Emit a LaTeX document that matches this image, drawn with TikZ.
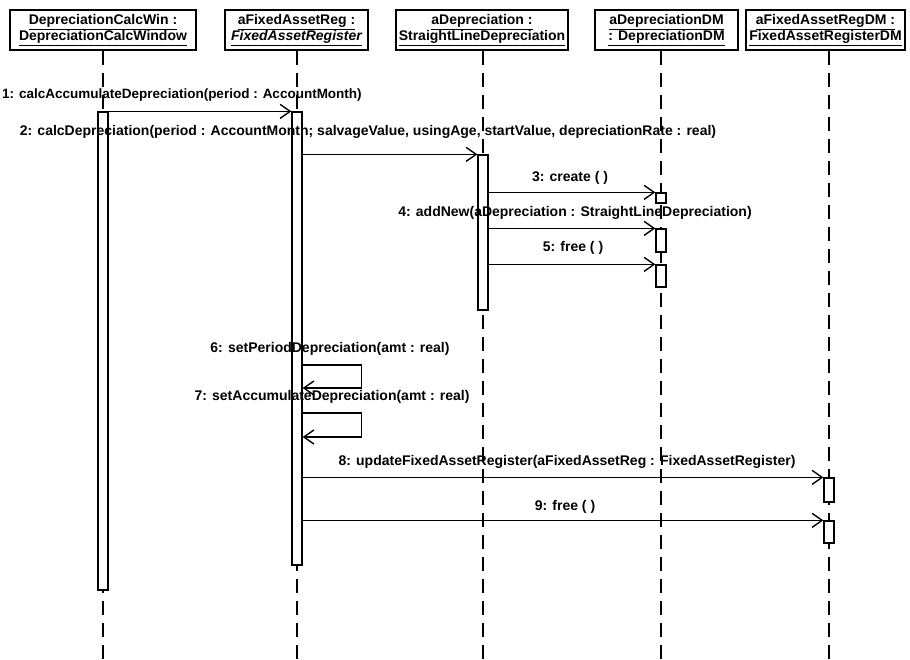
\documentclass[tikz,border=0pt]{standalone}
\usepackage{fontspec}
\setmainfont{Liberation Sans}
\usetikzlibrary{arrows.meta}
\begin{document}
\begin{tikzpicture}[x=1pt,y=-1pt,
 obj/.style={draw, line width=1.6pt, fill=white, align=center, inner sep=0pt, minimum height=40pt, font=\fontsize{14}{16}\selectfont\bfseries},
 life/.style={line width=1.6pt, dash pattern=on 14pt off 8pt},
 act/.style={draw, fill=white, line width=1.3pt, minimum width=10pt, inner sep=0pt},
 msg/.style={line width=1.4pt, -{Straight Barb[length=10pt,width=14pt,line width=1.4pt]}},
 lbl/.style={font=\fontsize{14}{16}\selectfont\bfseries, inner sep=0pt}
]
\useasboundingbox (0,0) rectangle (910,659);
% objects
\node[obj, minimum width=186pt] (o1) at (103,30) {\underline{DepreciationCalcWin :}\\\underline{DepreciationCalcWindow}};
\node[obj, minimum width=143pt] (o2) at (296.5,30) {\underline{aFixedAssetReg :}\\\underline{\itshape FixedAssetRegister}};
\node[obj, minimum width=172pt] (o3) at (482,30) {\underline{aDepreciation :}\\\underline{StraightLineDepreciation}};
\node[obj, minimum width=143pt] (o4) at (666.5,30) {\underline{aDepreciationDM}\\\underline{: DepreciationDM}};
\node[obj, minimum width=159pt] (o5) at (825.5,30) {\underline{aFixedAssetRegDM :}\\\underline{FixedAssetRegisterDM}};
% lifelines
\coordinate (e1) at (103,659);
\coordinate (e2) at (297,659);
\coordinate (e3) at (483,659);
\coordinate (e4) at (661,659);
\coordinate (e5) at (829,659);
\draw[life] (o1.south -| e1) -- (e1);
\draw[life] (o2.south -| e2) -- (e2);
\draw[life] (o3.south -| e3) -- (e3);
\draw[life] (o4.south -| e4) -- (e4);
\draw[life] (o5.south -| e5) -- (e5);
% activations
\node[act, minimum height=478pt] (b1) at (103,351) {};
\node[act, minimum height=453pt] (b2) at (297,338.5) {};
\node[act, minimum height=155pt] (b3) at (483,232.5) {};
\node[act, minimum height=10pt] (c1) at (661,198) {};
\node[act, minimum height=23pt] (c2) at (661,240.5) {};
\node[act, minimum height=22pt] (c3) at (661,276) {};
\node[act, minimum height=24pt] (d1) at (829,490) {};
\node[act, minimum height=22pt] (d2) at (829,532) {};
% messages
\draw[msg] (b1.north east) -- (b2.north west);
\node[lbl, font=\fontsize{13.5}{15}\selectfont\bfseries, anchor=west] (l1) at (2,95) {1: calcAccumulateDepreciation(period : AccountMonth)};
\draw[msg] (b2.east |- b3.north) -- (b3.north west);
\node[lbl] (l2) at (368,132) {2: calcDepreciation(period : AccountMonth; salvageValue, usingAge, startValue, depreciationRate : real)};
\draw[msg] (b3.east |- c1.north) -- (c1.north west);
\node[lbl] (l3) at (570,178) {3: create ( )};
\draw[msg] (b3.east |- c2.north) -- (c2.north west);
\node[lbl] (l4) at (575,213) {4: addNew(aDepreciation : StraightLineDepreciation)};
\draw[msg] (b3.east |- c3.north) -- (c3.north west);
\node[lbl] (l5) at (573,248) {5: free ( )};
\coordinate (s6a) at (297,365);
\coordinate (s6b) at (297,388);
\draw[msg] (b2.east |- s6a) -- ++(59,0) |- (b2.east |- s6b);
\node[lbl] (l6) at (330,349) {6: setPeriodDepreciation(amt : real)};
\coordinate (s7a) at (297,413);
\coordinate (s7b) at (297,437);
\draw[msg] (b2.east |- s7a) -- ++(59,0) |- (b2.east |- s7b);
\node[lbl] (l7) at (332,397) {7: setAccumulateDepreciation(amt : real)};
\draw[msg] (b2.east |- d1.north) -- (d1.north west);
\node[lbl] (l8) at (567,462) {8: updateFixedAssetRegister(aFixedAssetReg : FixedAssetRegister)};
\draw[msg] (b2.east |- d2.north) -- (d2.north west);
\node[lbl] (l9) at (565,507) {9: free ( )};
\end{tikzpicture}
\end{document}
